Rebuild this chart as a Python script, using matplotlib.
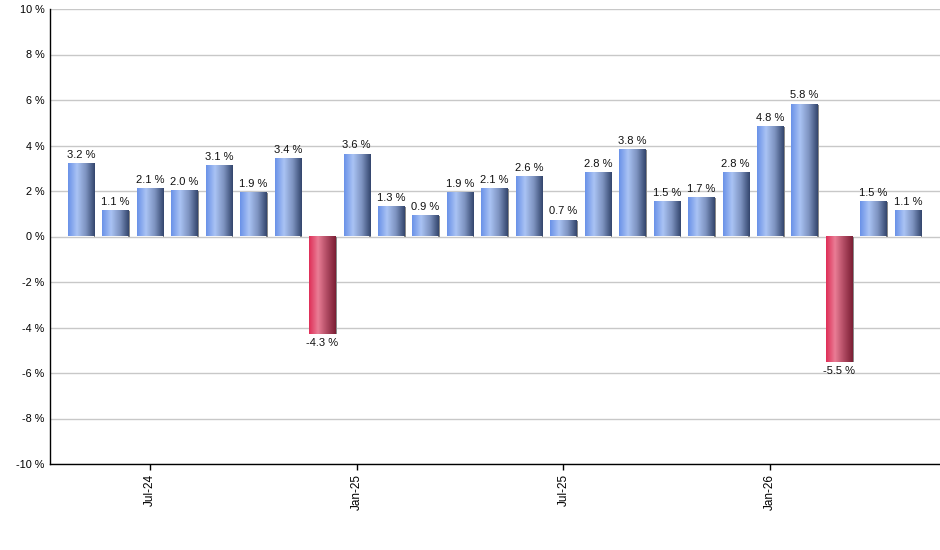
import numpy as np
import matplotlib
matplotlib.use("Agg")
import matplotlib.pyplot as plt
from matplotlib.colors import LinearSegmentedColormap
from matplotlib.patches import Rectangle

plt.rcParams['font.family'] = ['Liberation Sans', 'DejaVu Sans']

# monthly values, May-24 .. May-26
months = ['May-24', 'Jun-24', 'Jul-24', 'Aug-24', 'Sep-24', 'Oct-24', 'Nov-24', 'Dec-24',
          'Jan-25', 'Feb-25', 'Mar-25', 'Apr-25', 'May-25', 'Jun-25', 'Jul-25', 'Aug-25',
          'Sep-25', 'Oct-25', 'Nov-25', 'Dec-25', 'Jan-26', 'Feb-26', 'Mar-26', 'Apr-26',
          'May-26']
values = [3.2, 1.1, 2.1, 2.0, 3.1, 1.9, 3.4, -4.3, 3.6, 1.3, 0.9, 1.9, 2.1, 2.6, 0.7,
          2.8, 3.8, 1.5, 1.7, 2.8, 4.8, 5.8, -5.5, 1.5, 1.1]
tick_labels = ['Jul-24', 'Jan-25', 'Jul-25', 'Jan-26']
y_ticks = [-10, -8, -6, -4, -2, 0, 2, 4, 6, 8, 10]

blue_cmap = LinearSegmentedColormap.from_list(
    'blue', ['#6a92e8', '#aac3f4', '#7d93c0', '#34466e'])
red_cmap = LinearSegmentedColormap.from_list(
    'red', ['#df2f58', '#e97d95', '#b04a62', '#7c1f35'])

fig = plt.figure(figsize=(9.4, 5.5), dpi=100)
ax = fig.add_axes([50 / 940, 86 / 550, 890 / 940, 455 / 550])

x = np.arange(len(values))
width = 0.76
grad = np.linspace(0, 1, 64).reshape(1, -1)

for xi, v in zip(x, values):
    cmap = blue_cmap if v >= 0 else red_cmap
    lo, hi = (0, v) if v >= 0 else (v, 0)
    # thin shadow at right edge
    ax.add_patch(Rectangle((xi + width / 2 - 0.01, lo), 0.05, hi - lo,
                           facecolor='#8a8a8a', edgecolor='none', zorder=2))
    ax.imshow(grad, cmap=cmap, aspect='auto', interpolation='bilinear',
              extent=[xi - width / 2, xi + width / 2, lo, hi], zorder=3)
    label = f'{v:.1f} %'
    if v >= 0:
        ax.annotate(label, (xi, v), xytext=(0, 3), textcoords='offset points',
                    ha='center', va='bottom', fontsize=8, color='#111111')
    else:
        ax.annotate(label, (xi, v), xytext=(0, -3), textcoords='offset points',
                    ha='center', va='top', fontsize=8, color='#111111')

ax.set_xlim(-0.9, 24.93)
ax.set_ylim(-10, 10)
ax.set_yticks(y_ticks)
ax.set_yticklabels([f'{t} %' for t in y_ticks], fontsize=7.8)
ax.set_xticks([months.index(m) for m in tick_labels])
ax.set_xticklabels(tick_labels, rotation=90, fontsize=8.5)

ax.grid(axis='y', color='#c8c8c8', linewidth=1)
ax.set_axisbelow(True)
for s in ['top', 'right']:
    ax.spines[s].set_visible(False)
for s in ['left', 'bottom']:
    ax.spines[s].set_color('black')
    ax.spines[s].set_linewidth(1)
ax.tick_params(axis='y', length=0, pad=4)
ax.tick_params(axis='x', length=4, width=1, pad=3)

fig.savefig('out.png', dpi=100)
